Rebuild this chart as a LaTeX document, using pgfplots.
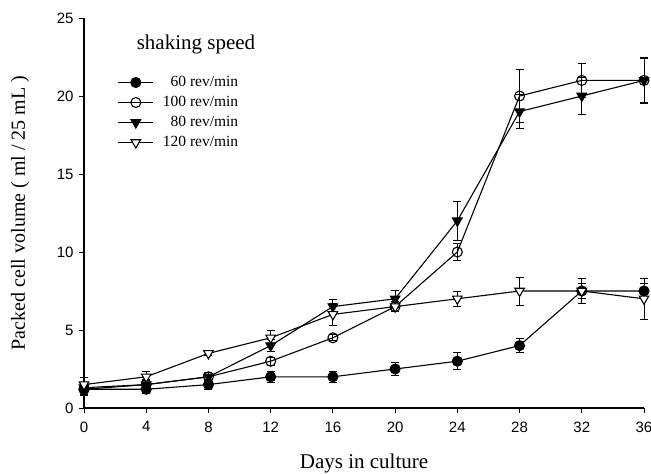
\documentclass[border=0pt]{standalone}
\usepackage{pgfplots}
\pgfplotsset{compat=1.18}
\usepackage{fontspec}
\setmainfont{Liberation Serif}
\newfontfamily\arial{Liberation Sans}
\begin{document}
\begin{tikzpicture}
\begin{axis}[
  scale only axis, width=560pt, height=390pt,
  xmin=0, xmax=36, ymin=0, ymax=25,
  axis x line=bottom, axis y line=left,
  axis line style={line width=2.6pt, -},
  xtick={0,4,...,36}, ytick={0,5,...,25},
  tick align=outside, major tick length=5pt,
  tick style={black, line width=0.9pt},
  /pgf/number format/assume math mode=true,
  ticklabel style={font=\arial\fontsize{15}{17}\selectfont},
  xticklabel style={yshift=-5pt},
  yticklabel style={xshift=-2pt},
  xlabel={Days in culture}, ylabel={Packed cell volume ( ml / 25 mL )},
  xlabel style={font=\fontsize{21}{23}\selectfont, at={(axis description cs:0.5,0)}, anchor=center, yshift=-55pt},
  ylabel style={font=\fontsize{20}{22}\selectfont, at={(axis description cs:-0.114,0.5)}, anchor=center},
  clip=false,
  legend style={at={(rel axis cs:0.06,0.855)}, anchor=north west, draw=none, fill=none,
    font=\fontsize{15.5}{17}\selectfont, inner sep=0pt, row sep=4.5pt,
    nodes={inner ysep=1pt, text height=10.5pt, text depth=3pt},
    /tikz/every odd column/.append style={column sep=7pt}},
  legend cell align=right,
  legend image code/.code={\draw[mark repeat=2,mark phase=2] plot coordinates {(0pt,0pt)(17.5pt,0pt)(35pt,0pt)};},
  every axis plot/.append style={black, line width=1.1pt},
  error bars/error bar style={black, line width=0.9pt},
  error bars/error mark options={rotate=90, mark size=4pt, black, line width=0.9pt},
]
\addplot[mark=*, mark size=5pt, mark options={fill=black}, error bars/.cd, y dir=both, y explicit]
 table[x=x, y=y, y error=e] {
x y e
0 1.2 0.4
4 1.2 0.25
8 1.5 0.3
12 2 0.35
16 2 0.35
20 2.5 0.4
24 3 0.55
28 4 0.45
32 7.5 0.5
36 7.5 0.5
};
\addlegendentry{60 rev/min}
\addplot[mark=o, mark size=5pt, mark options={fill=white}, error bars/.cd, y dir=both, y explicit]
 table[x=x, y=y, y error=e] {
x y e
0 1.2 0.3
4 1.5 0.25
8 2 0.25
12 3 0.25
16 4.5 0.2
20 6.5 0.3
24 10 0.55
28 20 1.7
32 21 1.1
36 21 1.4
};
\addlegendentry{100 rev/min}
\addplot[mark=triangle*, mark size=5.5pt, mark options={fill=black, rotate=180}, error bars/.cd, y dir=both, y explicit]
 table[x=x, y=y, y error=e] {
x y e
0 1.3 0.3
4 1.5 0.3
8 2 0.3
12 4 0.4
16 6.5 0.45
20 7 0.55
24 12 1.25
28 19 1.1
32 20 1.2
36 21 1.5
};
\addlegendentry{80 rev/min}
\addplot[mark=triangle*, mark size=5.5pt, mark options={fill=white, rotate=180}, error bars/.cd, y dir=both, y explicit]
 table[x=x, y=y, y error=e] {
x y e
0 1.5 0.45
4 2 0.35
8 3.5 0.15
12 4.5 0.5
16 6 0.7
20 6.5 0.3
24 7 0.5
28 7.5 0.9
32 7.5 0.8
36 7 1.3
};
\addlegendentry{120 rev/min}
\node[font=\fontsize{21}{23}\selectfont] at (axis cs:7.2,23.3) {shaking speed};
\end{axis}
\pgfresetboundingbox
\path[use as bounding box] (current axis.south west) ++(-84pt,-66pt) rectangle ++(651pt,474pt);
\end{tikzpicture}
\end{document}
